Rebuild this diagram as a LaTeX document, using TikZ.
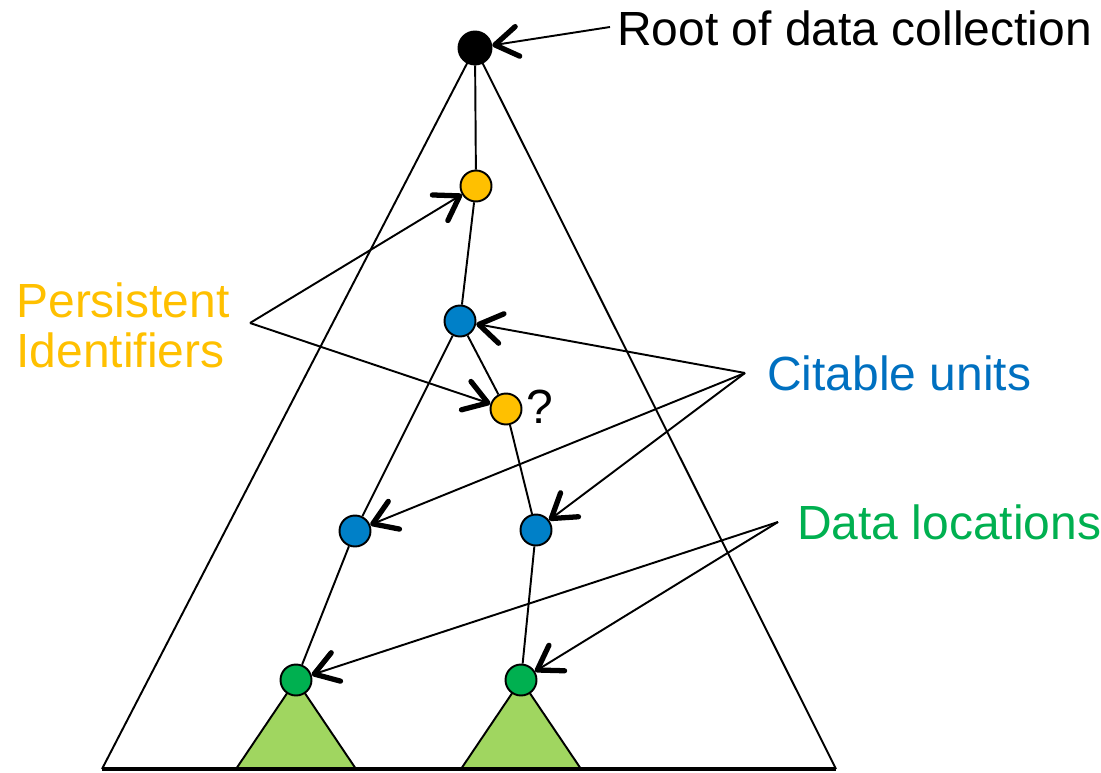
\documentclass[tikz,border=0pt]{standalone}
\usepackage{fontspec}
\setmainfont{Liberation Sans}
\usetikzlibrary{arrows.meta}
\definecolor{pidyellow}{HTML}{FFC000}
\definecolor{cublue}{HTML}{0080C8}
\definecolor{cutext}{HTML}{0070C0}
\definecolor{dlgreen}{HTML}{00B050}
\definecolor{treegreen}{HTML}{A0D660}
\begin{document}
\begin{tikzpicture}[x=0.02cm,y=-0.02cm,
  dot/.style={circle,draw=black,line width=1.1pt,minimum size=0.62cm,inner sep=0pt},
  edge/.style={line width=1.1pt},
  ptr/.style={line width=1.1pt,-{Straight Barb[length=13pt,width=17pt,line width=3pt,round]}},
  lbl/.style={font=\fontsize{27.3}{28.5}\selectfont,inner sep=0pt}]
\useasboundingbox (0,0) rectangle (1101,773);
% big triangle
\coordinate (apex) at (475,48);
\coordinate (bl) at (102,769);
\coordinate (br) at (836,769);
\draw[line width=1.1pt] (bl) -- (apex) -- (br);
% green subtrees
\draw[edge,fill=treegreen] (296,680) -- (236,769) -- (356,769) -- cycle;
\draw[edge,fill=treegreen] (521,680) -- (461,769) -- (581,769) -- cycle;
\draw[line width=1.8pt] (bl) -- (br);
% nodes
\node[dot,fill=black,minimum size=0.66cm] (root) at (475,48) {};
\node[dot,fill=pidyellow] (y1) at (476,186) {};
\node[dot,fill=cublue] (b1) at (460,321) {};
\node[dot,fill=pidyellow] (y2) at (506,409) {};
\node[dot,fill=cublue] (b2) at (355,531) {};
\node[dot,fill=cublue] (b3) at (536,530) {};
\node[dot,fill=dlgreen] (g1) at (296,680) {};
\node[dot,fill=dlgreen] (g2) at (521,680) {};
% edges
\draw[edge] (root) -- (y1);
\draw[edge] (y1) -- (b1);
\draw[edge] (b1) -- (y2);
\draw[edge] (b1) -- (b2);
\draw[edge] (y2) -- (b3);
\draw[edge] (b2) -- (g1);
\draw[edge] (b3) -- (g2);
% question mark
\node[lbl,anchor=west] (q) at (526,407) {?};
% labels
\node[lbl,anchor=west] (rootlbl) at (617,28) {Root of data collection};
\node[lbl,anchor=west,text=pidyellow,align=left] (pidlbl) at (16,325) {Persistent\\Identifiers};
\node[lbl,anchor=west,text=cutext] (culbl) at (767,373) {Citable units};
\node[lbl,anchor=west,text=dlgreen] (dllbl) at (797,522) {Data locations};
% pointer origins
\coordinate (rp) at (610,27);
\coordinate (pp) at (250,323);
\coordinate (cp) at (745,373);
\coordinate (dp) at (778,522);
% pointers
\draw[ptr] (rp) -- (root);
\draw[ptr] (pp) -- (y1);
\draw[ptr] (pp) -- (y2);
\draw[ptr] (cp) -- (b1);
\draw[ptr] (cp) -- (b2);
\draw[ptr] (cp) -- (b3);
\draw[ptr] (dp) -- (g1);
\draw[ptr] (dp) -- (g2);
\end{tikzpicture}
\end{document}
